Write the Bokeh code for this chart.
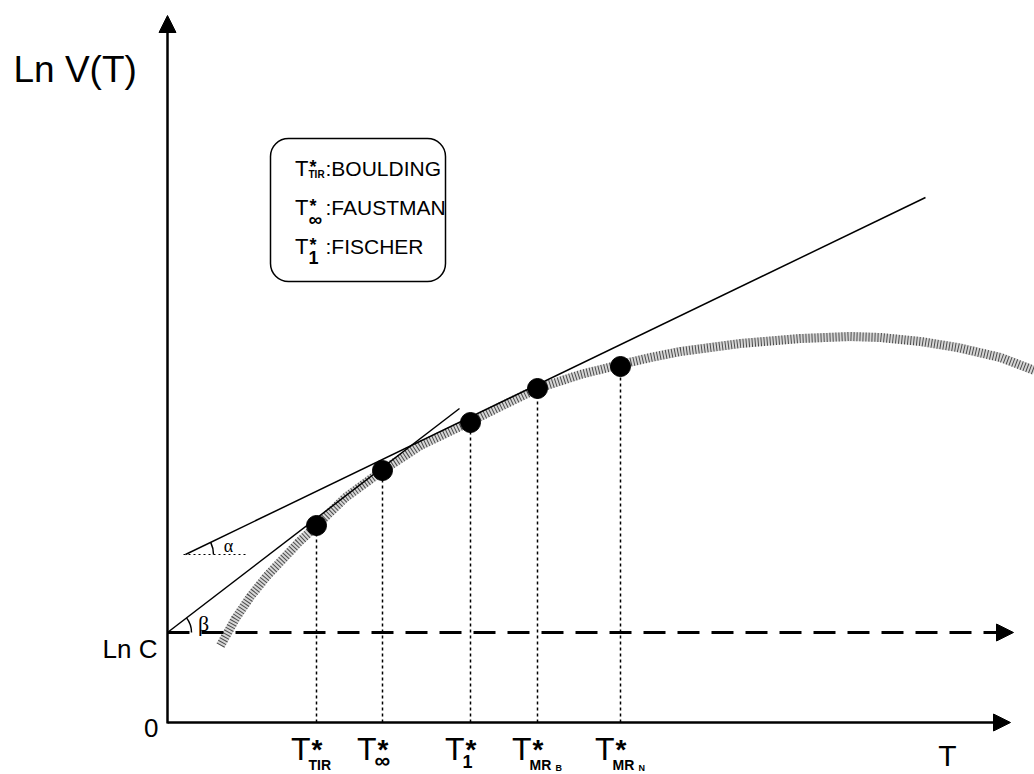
import math
from bokeh.plotting import figure
from bokeh.models import Range1d, Arrow, NormalHead, BoxAnnotation
from bokeh.core.properties import value
from bokeh.embed import file_html
from bokeh.resources import INLINE

# ---------------- data (schematic units: T across, Ln V up) ----------------
curve_T = [53, 68, 83, 99, 116, 131, 147, 178, 215, 253, 303, 333, 370, 413, 453,
           483, 513, 573, 633, 683, 713, 753, 790, 833, 867]
curve_V = [77, 104, 126, 146, 164, 180, 195, 225, 252, 277, 301, 316, 334, 348, 358,
           365, 371, 379, 384, 386, 385, 381, 375, 365, 352]

opt_T = [149, 215, 303, 370, 453]
opt_V = [197, 252, 300, 334, 356]
tick_sub = ["TIR", "\u221e", "1", "MR", "MR"]
tick_subsub = ["", "", "", "B", "N"]

ln_C = 90
T_max = 843
V_max = 707
dash_end = 846

alpha_T = [18, 758]
alpha_V = [168, 525]
beta_T = [0, 292]
beta_V = [90, 314]

legend_sub = ["TIR", "\u221e", "1"]
legend_names = ["BOULDING", "FAUSTMAN", "FISCHER"]

FONT = value("Liberation Sans")

p = figure(width=1034, height=774, x_range=Range1d(-167, 867), y_range=Range1d(-52, 722),
           output_backend="svg", toolbar_location=None,
           x_axis_location=None, y_axis_location=None, min_border=0,
           outline_line_color=None)
p.grid.grid_line_color = None
p.background_fill_color = "white"

# gray stippled curve
p.line(curve_T, curve_V, line_width=9, line_color="#d6d6d6", line_join="round")
p.line(curve_T, curve_V, line_width=9, line_color="#4a4a4a", line_dash="1 2",
       line_join="round")

# tangents
p.segment(x0=[alpha_T[0]], y0=[alpha_V[0]], x1=[alpha_T[1]], y1=[alpha_V[1]],
          line_color="black", line_width=1.5)
p.segment(x0=[beta_T[0]], y0=[beta_V[0]], x1=[beta_T[1]], y1=[beta_V[1]],
          line_color="black", line_width=1.5)

# alpha reference dotted horizontal
p.segment(x0=[alpha_T[0] - 2], y0=[alpha_V[0]], x1=[alpha_T[0] + 60], y1=[alpha_V[0]],
          line_color="black", line_width=1, line_dash="2 3")
a_slope = (alpha_V[1] - alpha_V[0]) / (alpha_T[1] - alpha_T[0])
b_slope = (beta_V[1] - beta_V[0]) / (beta_T[1] - beta_T[0])
p.arc(x=[alpha_T[0]], y=[alpha_V[0]], radius=28, start_angle=0,
      end_angle=math.atan(a_slope), line_color="black", line_width=1.5)
p.arc(x=[beta_T[0]], y=[beta_V[0]], radius=24, start_angle=0,
      end_angle=math.atan(b_slope), line_color="black", line_width=1.5)
p.text(x=[alpha_T[0] + 43], y=[alpha_V[0] + 9], text=["\u03b1"], text_font=value("Liberation Serif"),
       text_font_size="18px", text_align="center", text_baseline="middle")
p.text(x=[beta_T[0] + 36], y=[beta_V[0] + 9], text=["\u03b2"], text_font=value("Liberation Serif"),
       text_font_size="22px", text_align="center", text_baseline="middle")

# vertical dotted lines
p.segment(x0=opt_T, y0=[0] * len(opt_T), x1=opt_T, y1=opt_V,
          line_color="black", line_width=1.5, line_dash="3 3")

# dots
p.scatter(opt_T, opt_V, size=20, fill_color="black", line_color="black")

# axes with arrows
p.add_layout(Arrow(end=NormalHead(size=17, fill_color="black", line_color="black"),
                   x_start=0, y_start=0, x_end=T_max, y_end=0, line_width=2.5))
p.add_layout(Arrow(end=NormalHead(size=17, fill_color="black", line_color="black"),
                   x_start=0, y_start=-1, x_end=0, y_end=V_max, line_width=2.5))
p.add_layout(Arrow(end=NormalHead(size=17, fill_color="black", line_color="black"),
                   x_start=0, y_start=ln_C, x_end=dash_end, y_end=ln_C,
                   line_width=3, line_dash="22 12"))

# axis texts
p.text(x=[-154], y=[653], text=["Ln V(T)"], text_font=FONT, text_font_size="37px",
       text_baseline="middle", text_align="left")
p.text(x=[-10], y=[ln_C - 16], text=["Ln C"], text_font=FONT, text_font_size="26px",
       text_baseline="middle", text_align="right")
p.text(x=[-9], y=[-5], text=["0"], text_font=FONT, text_font_size="26px",
       text_baseline="middle", text_align="right")
p.text(x=[780], y=[-33], text=["T"], text_font=FONT, text_font_size="30px",
       text_baseline="middle", text_align="center")

# tick labels T*_sub
n = len(opt_T)
p.text(x=[t - 6 for t in opt_T], y=[-26] * n, text=["T"] * n, text_font=FONT,
       text_font_size="32px", text_align="right", text_baseline="middle")
p.text(x=[t - 5 for t in opt_T], y=[-27] * n, text=["*"] * n, text_font=FONT,
       text_font_size="28px", text_font_style="bold", text_align="left",
       text_baseline="middle")
sub_size = {"\u221e": "22px", "1": "18px"}
sub_y = {"\u221e": -38, "1": -39}
for t, s, ss in zip(opt_T, tick_sub, tick_subsub):
    p.text(x=[t - 8], y=[sub_y.get(s, -42)], text=[s], text_font=FONT,
           text_font_size=sub_size.get(s, "14px"), text_font_style="bold",
           text_align="left", text_baseline="middle")
    if ss:
        p.text(x=[t + 18], y=[-45], text=[ss], text_font=FONT, text_font_size="9px",
               text_font_style="bold", text_align="left", text_baseline="middle")

# legend box
p.add_layout(BoxAnnotation(left=103, right=278, bottom=441, top=584, fill_color=None,
                           fill_alpha=0, line_color="black", line_alpha=1.0,
                           line_width=1.5, border_radius=18))
row_y = [554, 515, 476]
p.text(x=[141] * 3, y=row_y, text=["T"] * 3, text_font=FONT, text_font_size="22px",
       text_align="right", text_baseline="middle")
p.text(x=[142] * 3, y=[r + 2 for r in row_y], text=["*"] * 3, text_font=FONT,
       text_font_size="18px", text_font_style="bold", text_align="left",
       text_baseline="middle")
leg_size = {"\u221e": "19px", "1": "18px"}
leg_dy = {"\u221e": -12, "1": -11}
for r, s in zip(row_y, legend_sub):
    p.text(x=[141], y=[r + leg_dy.get(s, -6)], text=[s], text_font=FONT,
           text_font_size=leg_size.get(s, "10px"), text_font_style="bold",
           text_align="left", text_baseline="middle")
p.text(x=[158] * 3, y=row_y, text=[":" + nm for nm in legend_names], text_font=FONT,
       text_font_size="21px", text_align="left", text_baseline="middle")

open("out.html", "w").write(file_html(p, INLINE))
